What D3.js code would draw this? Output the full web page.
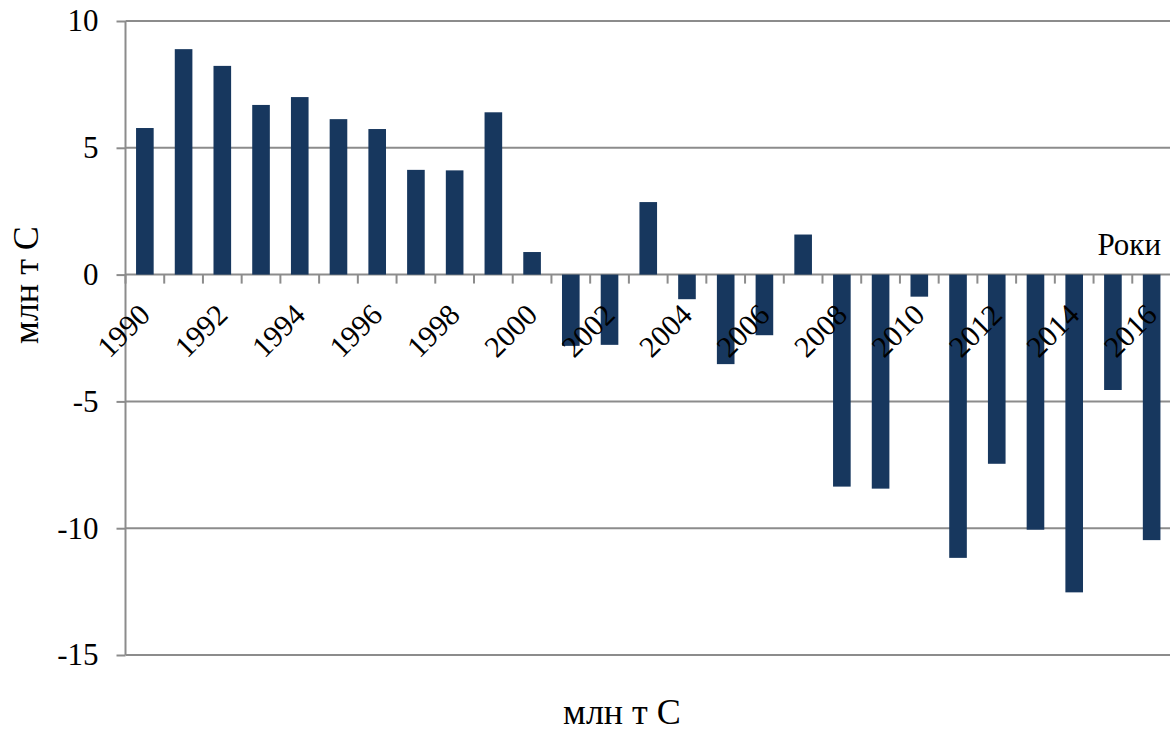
<!DOCTYPE html>
<html>
<head>
<meta charset="utf-8">
<script src="https://cdn.jsdelivr.net/npm/d3@7"></script>
<style>
  html, body { margin: 0; padding: 0; background: #fff; }
  svg { display: block; }
  svg text { font-family: "Times New Roman", Tinos, Times, "Liberation Serif", "Nimbus Roman", "FreeSerif", "Noto Serif", "DejaVu Serif", serif; }
</style>
</head>
<body>
<svg id="chart" width="1170" height="731"></svg>
<script>
// Annual net balance, million tonnes of carbon
const years = ["1990","1991","1992","1993","1994","1995","1996","1997","1998","1999",
               "2000","2001","2002","2003","2004","2005","2006","2007","2008","2009",
               "2010","2011","2012","2013","2014","2015","2016"];
const values = [5.78, 8.89, 8.23, 6.69, 7.00, 6.13, 5.74, 4.13, 4.11, 6.40,
                0.89, -2.81, -2.77, 2.86, -0.97, -3.53, -2.39, 1.58, -8.36, -8.44,
                -0.87, -11.17, -7.46, -10.06, -12.53, -4.55, -10.47];
const yTicks = [-15, -10, -5, 0, 5, 10];
const xLabels = ["1990","1992","1994","1996","1998","2000","2002","2004","2006","2008","2010","2012","2014","2016"];
const yTitle = "млн т С";
const xTitleBottom = "млн т С";
const xTitleRight = "Роки";

const svg = d3.select("#chart");
const plot = { left: 125.5, right: 1171, top: 21, bottom: 655 };

const x = d3.scaleBand().domain(years).range([plot.left, plot.right]).padding(0);
const y = d3.scaleLinear().domain([-15, 10]).range([plot.bottom, plot.top]);

const gridColor = "#8c8c8c";
const barColor = "#17375E";

// horizontal gridlines
svg.append("g")
  .selectAll("line")
  .data(yTicks)
  .join("line")
  .attr("x1", plot.left)
  .attr("x2", plot.right)
  .attr("y1", d => y(d))
  .attr("y2", d => y(d))
  .attr("stroke", gridColor)
  .attr("stroke-width", 2);

// bars
const barW = x.bandwidth() * 0.455;
svg.append("g")
  .selectAll("rect")
  .data(years.map((yr, i) => ({ yr, v: values[i] })))
  .join("rect")
  .attr("x", d => x(d.yr) + (x.bandwidth() - barW) / 2)
  .attr("width", barW)
  .attr("y", d => y(Math.max(0, d.v)))
  .attr("height", d => Math.abs(y(d.v) - y(0)))
  .attr("fill", barColor);

// y axis
const yAxis = d3.axisLeft(y).tickValues(yTicks).tickSize(9).tickPadding(18)
  .tickFormat(d => d);
const gy = svg.append("g")
  .attr("transform", `translate(${plot.left},0)`)
  .call(yAxis)
  .attr("font-family", null)
  .attr("font-size", null);
gy.select(".domain").attr("stroke", gridColor).attr("stroke-width", 2)
  .attr("d", `M0,${plot.top}V${plot.bottom}`);
gy.selectAll(".tick line").attr("stroke", gridColor).attr("stroke-width", 2);
gy.selectAll(".tick text")
  .attr("font-size", 31)
  .attr("fill", "#000");

// category boundary ticks on the zero line
const boundaries = years.map(yr => x(yr)).concat([x(years[years.length - 1]) + x.bandwidth()]);
svg.append("g")
  .selectAll("line")
  .data(boundaries)
  .join("line")
  .attr("x1", d => d)
  .attr("x2", d => d)
  .attr("y1", y(0))
  .attr("y2", y(0) + 9)
  .attr("stroke", gridColor)
  .attr("stroke-width", 2);

// rotated year labels
svg.append("g")
  .selectAll("text")
  .data(xLabels)
  .join("text")
  .attr("transform", d => `translate(${x(d) + x.bandwidth() / 2 + 7},${y(0) + 42}) rotate(-45)`)
  .attr("text-anchor", "end")
  .attr("font-size", 30)
  .attr("fill", "#000")
  .text(d => d);

// axis titles
svg.append("text")
  .attr("transform", `translate(38,285) rotate(-90)`)
  .attr("text-anchor", "middle")
  .attr("font-size", 36)
  .attr("fill", "#000")
  .text(yTitle);

svg.append("text")
  .attr("x", 622)
  .attr("y", 724)
  .attr("text-anchor", "middle")
  .attr("font-size", 36)
  .attr("fill", "#000")
  .text(xTitleBottom);

svg.append("text")
  .attr("x", 1161)
  .attr("y", 255)
  .attr("text-anchor", "end")
  .attr("font-size", 31)
  .attr("fill", "#000")
  .text(xTitleRight);
</script>
</body>
</html>
